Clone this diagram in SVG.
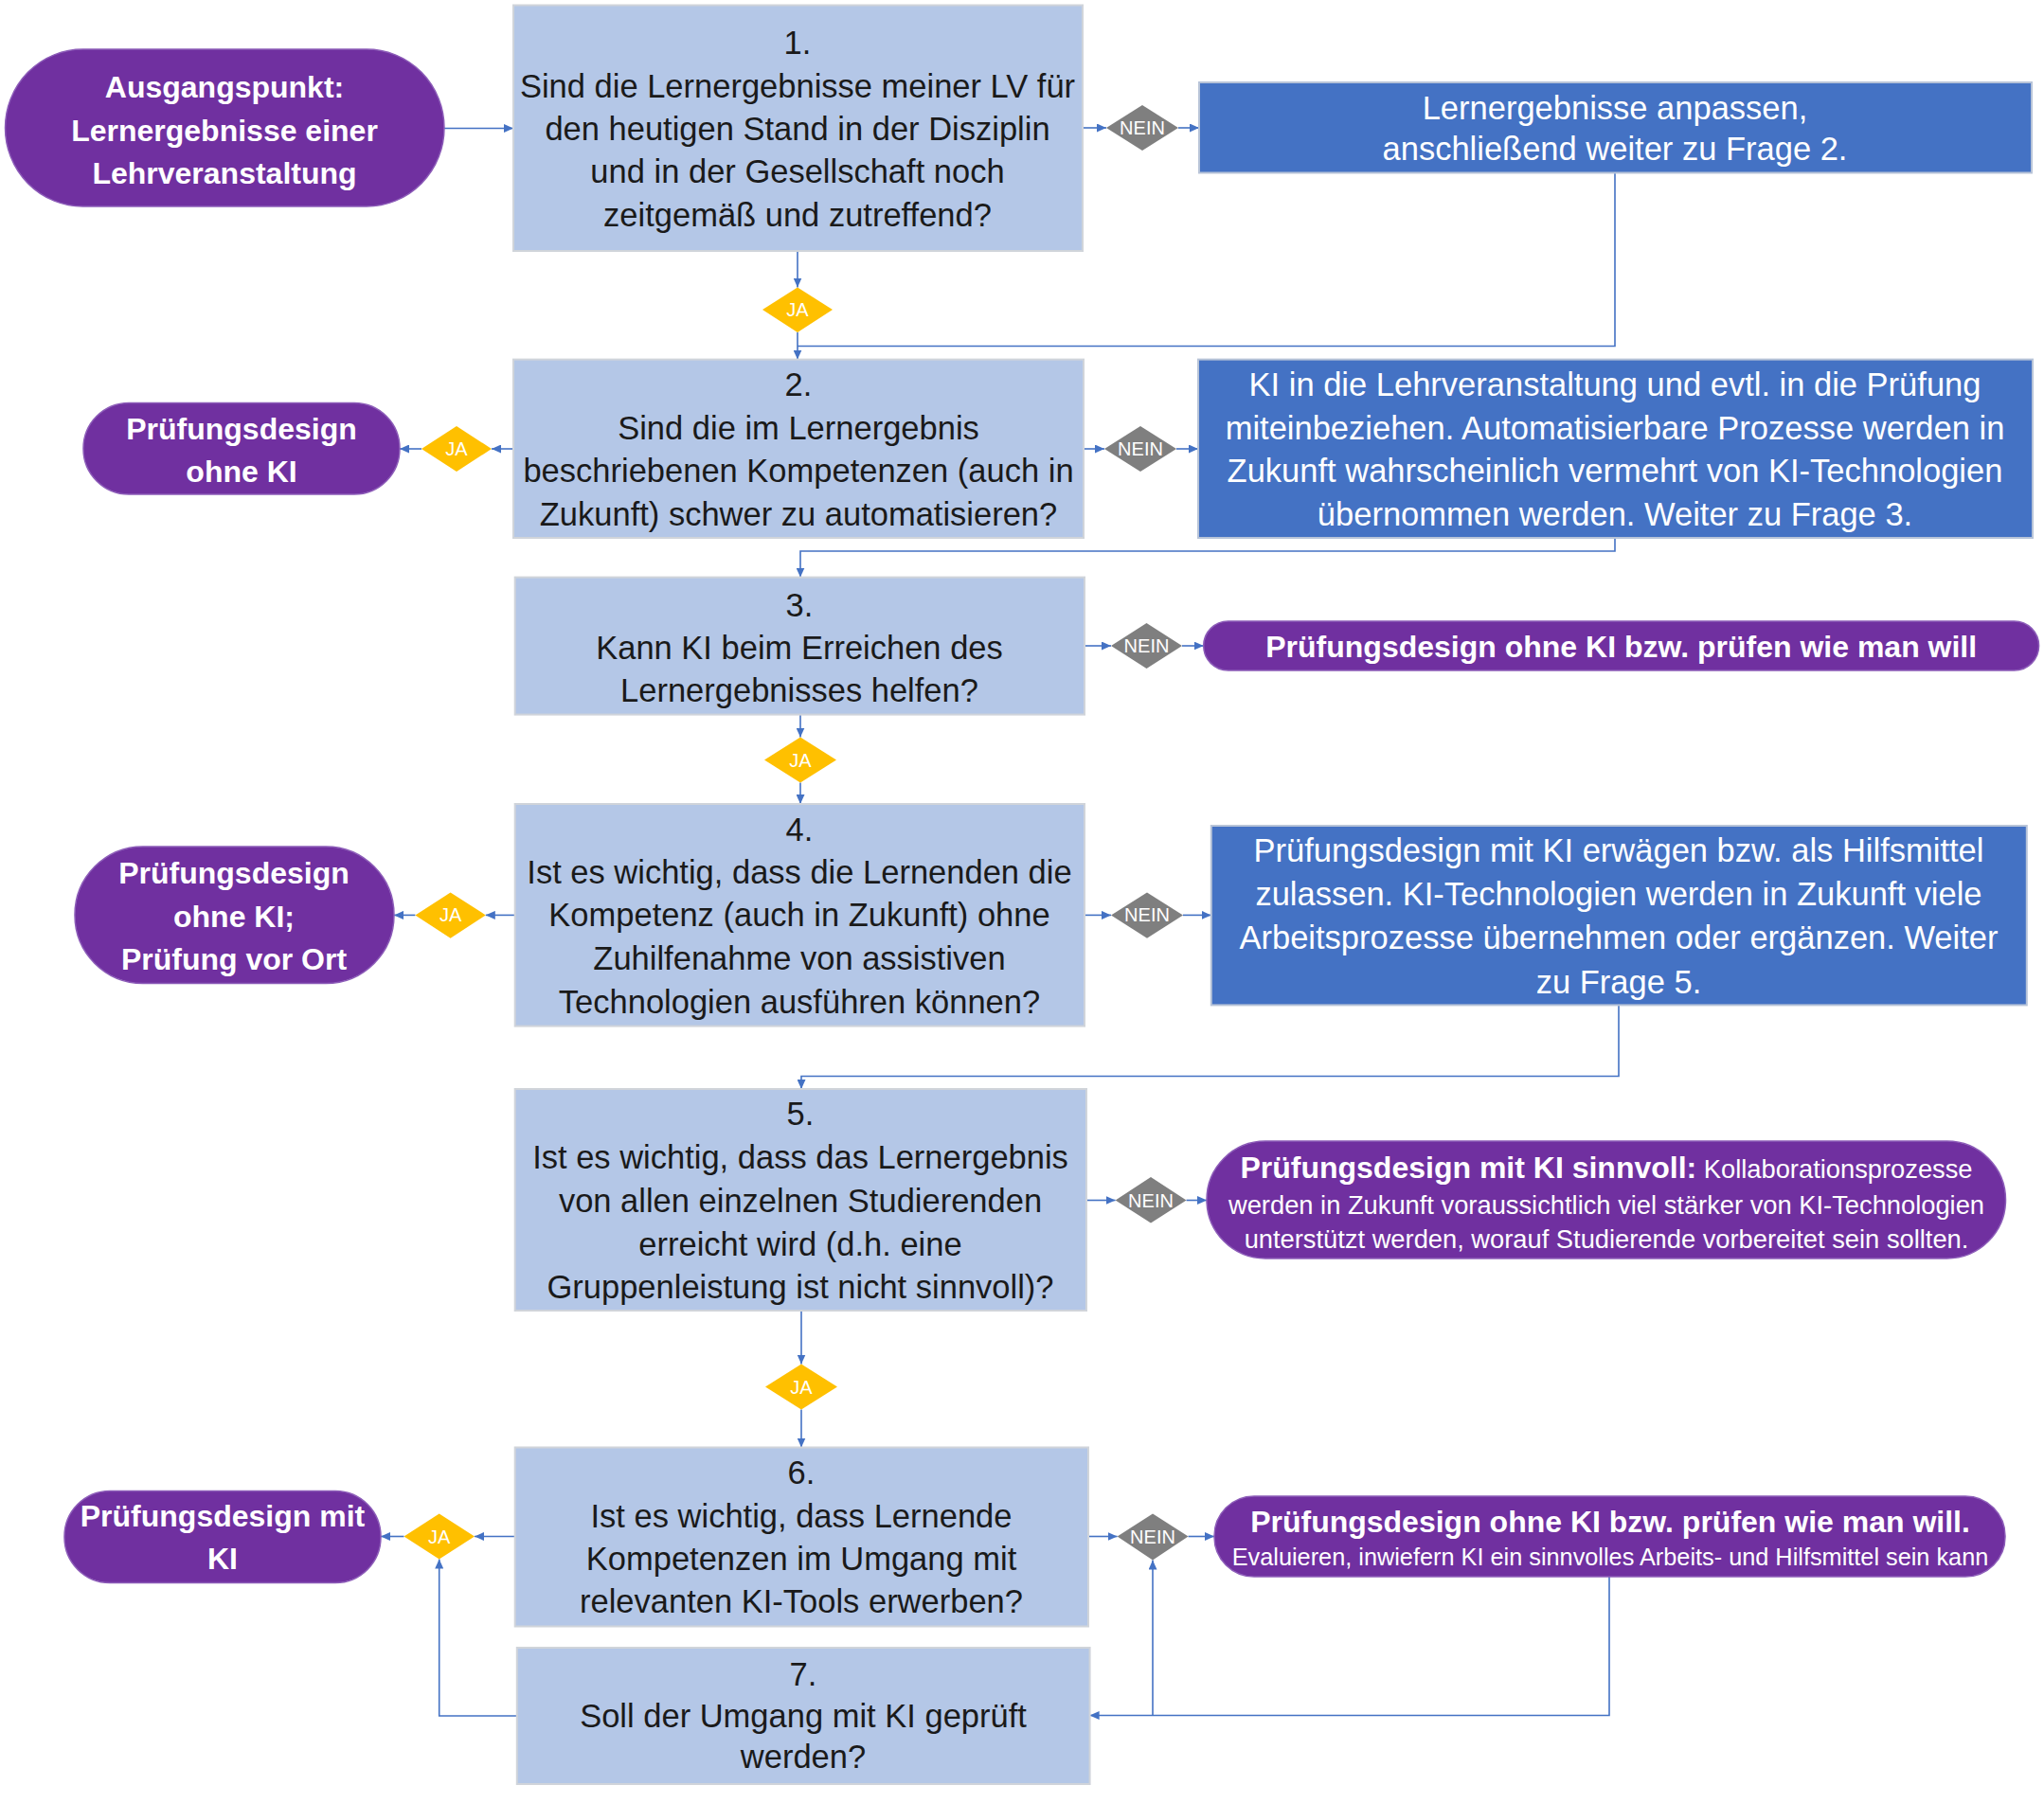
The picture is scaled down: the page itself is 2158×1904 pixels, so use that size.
<svg xmlns="http://www.w3.org/2000/svg" width="2158" height="1904" viewBox="0 0 2158 1904">
<style>
.q{fill:#B4C7E7;stroke:#D0D4DA;stroke-width:2}
.b{fill:#4472C4;stroke:#B8C4D8;stroke-width:2}
.p{fill:#7030A0;stroke:#8C5CB8;stroke-width:1.5}
.ja{fill:#FFC000}
.nein{fill:#7F7F7F}
.t{font-family:"Liberation Sans",Arial,sans-serif;font-size:34.5px;fill:#1A1A1A;text-anchor:middle}
.w{font-family:"Liberation Sans",Arial,sans-serif;font-size:34.5px;fill:#FFFFFF;text-anchor:middle}
.wb{font-family:"Liberation Sans",Arial,sans-serif;font-size:32px;font-weight:bold;fill:#FFFFFF;text-anchor:middle}
.ws{font-family:"Liberation Sans",Arial,sans-serif;font-size:27.3px;fill:#FFFFFF;text-anchor:middle}
.wx{font-family:"Liberation Sans",Arial,sans-serif;font-size:25.3px;fill:#FFFFFF;text-anchor:middle}
.lbl{font-family:"Liberation Sans",Arial,sans-serif;font-size:20px;fill:#FFFFFF;text-anchor:middle}
.c{fill:none;stroke:#4472C4;stroke-width:1.6}
.ca{fill:none;stroke:#4472C4;stroke-width:1.6;marker-end:url(#ah)}
</style>
<defs>
<marker id="ah" markerUnits="userSpaceOnUse" markerWidth="10" markerHeight="9" refX="10" refY="4.5" orient="auto">
<path d="M0,0 L10,4.5 L0,9 Z" fill="#4472C4"/>
</marker>
</defs>

<g id="connectors">
<path class="ca" d="M469,135.5 H542"/>
<path class="ca" d="M1143,135 H1168"/>
<path class="ca" d="M1244,135 H1266"/>
<path class="ca" d="M842,265 V303.5"/>
<path class="ca" d="M842,351 V379.6"/>
<path class="c" d="M1705,182.5 V365.5 H842"/>
<path class="ca" d="M542,474 H519"/>
<path class="ca" d="M445,474 H422"/>
<path class="ca" d="M1144,474 H1166"/>
<path class="ca" d="M1242,474 H1265"/>
<path class="ca" d="M1705,568 V582 H845 V609.6"/>
<path class="ca" d="M1145,682 H1173"/>
<path class="ca" d="M1248,682 H1270.7"/>
<path class="ca" d="M845,754.6 V778.6"/>
<path class="ca" d="M845,826.4 V849"/>
<path class="ca" d="M543.7,966.4 H512.8"/>
<path class="ca" d="M438.4,966.4 H416"/>
<path class="ca" d="M1145,966.4 H1173"/>
<path class="ca" d="M1249,966.4 H1278.8"/>
<path class="ca" d="M1709,1061.4 V1136.5 H846 V1150"/>
<path class="ca" d="M1147,1267.5 H1177.6"/>
<path class="ca" d="M1252.5,1267.5 H1274"/>
<path class="ca" d="M846,1384 V1440.5"/>
<path class="ca" d="M846,1488.5 V1528.5"/>
<path class="ca" d="M543.7,1622.5 H501"/>
<path class="ca" d="M426.5,1622.5 H402"/>
<path class="ca" d="M1149,1622.5 H1179.6"/>
<path class="ca" d="M1254.5,1622.5 H1282"/>
<path class="ca" d="M545.8,1812 H463.7 V1646.5"/>
<path class="ca" d="M1699,1665 V1811.5 H1150.6"/>
<path class="ca" d="M1217,1811.5 V1647.5"/>
</g>

<g id="start">
<rect class="p" x="5.5" y="52" width="463.5" height="166" rx="82" ry="83"/>
<text class="wb" font-size="33"><tspan x="237" y="103">Ausgangspunkt:</tspan><tspan x="237" y="148.5">Lernergebnisse einer</tspan><tspan x="237" y="194">Lehrveranstaltung</tspan></text>
</g>

<g id="q1">
<rect class="q" x="542" y="5.5" width="601" height="259.5"/>
<text class="t"><tspan x="842" y="57">1.</tspan><tspan x="842" y="103">Sind die Lernergebnisse meiner LV für</tspan><tspan x="842" y="148">den heutigen Stand in der Disziplin</tspan><tspan x="842" y="193">und in der Gesellschaft noch</tspan><tspan x="842" y="239">zeitgemäß und zutreffend?</tspan></text>
</g>
<g id="nein1"><polygon class="nein" points="1168,135 1206,111 1244,135 1206,159"/><text class="lbl" x="1206" y="142">NEIN</text></g>
<g id="a1">
<rect class="b" x="1266" y="87" width="879" height="95.5"/>
<text class="w"><tspan x="1705" y="126">Lernergebnisse anpassen,</tspan><tspan x="1705" y="169">anschließend weiter zu Frage 2.</tspan></text>
</g>
<g id="ja1"><polygon class="ja" points="805,327 842,303.5 879,327 842,351"/><text class="lbl" x="842" y="334">JA</text></g>

<g id="q2">
<rect class="q" x="542" y="379.6" width="602" height="188.4"/>
<text class="t"><tspan x="843" y="418">2.</tspan><tspan x="843" y="464">Sind die im Lernergebnis</tspan><tspan x="843" y="509">beschriebenen Kompetenzen (auch in</tspan><tspan x="843" y="555">Zukunft) schwer zu automatisieren?</tspan></text>
</g>
<g id="ja2"><polygon class="ja" points="445,474 482,450 519,474 482,498"/><text class="lbl" x="482" y="481">JA</text></g>
<g id="e2">
<rect class="p" x="88" y="425.5" width="334" height="96.5" rx="48" ry="48"/>
<text class="wb"><tspan x="255" y="463.5">Prüfungsdesign</tspan><tspan x="255" y="508.5">ohne KI</tspan></text>
</g>
<g id="nein2"><polygon class="nein" points="1166,474 1204,450 1242,474 1204,498"/><text class="lbl" x="1204" y="481">NEIN</text></g>
<g id="a2">
<rect class="b" x="1265" y="379.6" width="881" height="188.4"/>
<text class="w"><tspan x="1705" y="418">KI in die Lehrveranstaltung und evtl. in die Prüfung</tspan><tspan x="1705" y="464">miteinbeziehen. Automatisierbare Prozesse werden in</tspan><tspan x="1705" y="509">Zukunft wahrscheinlich vermehrt von KI-Technologien</tspan><tspan x="1705" y="555">übernommen werden. Weiter zu Frage 3.</tspan></text>
</g>

<g id="q3">
<rect class="q" x="543.7" y="609.6" width="601.3" height="145"/>
<text class="t"><tspan x="844" y="651">3.</tspan><tspan x="844" y="696">Kann KI beim Erreichen des</tspan><tspan x="844" y="741">Lernergebnisses helfen?</tspan></text>
</g>
<g id="nein3"><polygon class="nein" points="1173,682 1210.5,658 1248,682 1210.5,706"/><text class="lbl" x="1210.5" y="689">NEIN</text></g>
<g id="e3">
<rect class="p" x="1270.7" y="656" width="881.9" height="52" rx="26" ry="26"/>
<text class="wb" x="1711.7" y="694" font-size="32.5">Prüfungsdesign ohne KI bzw. prüfen wie man will</text>
</g>
<g id="ja3"><polygon class="ja" points="807,802.5 845,778.6 883,802.5 845,826.4"/><text class="lbl" x="845" y="809.5">JA</text></g>

<g id="q4">
<rect class="q" x="543.7" y="849" width="601.3" height="234.6"/>
<text class="t"><tspan x="844" y="888">4.</tspan><tspan x="844" y="933">Ist es wichtig, dass die Lernenden die</tspan><tspan x="844" y="978">Kompetenz (auch in Zukunft) ohne</tspan><tspan x="844" y="1024">Zuhilfenahme von assistiven</tspan><tspan x="844" y="1070">Technologien ausführen können?</tspan></text>
</g>
<g id="ja4"><polygon class="ja" points="438.4,966.4 475.6,942.5 512.8,966.4 475.6,990.7"/><text class="lbl" x="475.6" y="973.4">JA</text></g>
<g id="e4">
<rect class="p" x="79" y="894" width="337" height="144.6" rx="72" ry="72"/>
<text class="wb"><tspan x="247" y="932.5">Prüfungsdesign</tspan><tspan x="247" y="978.5">ohne KI;</tspan><tspan x="247" y="1023.5">Prüfung vor Ort</tspan></text>
</g>
<g id="nein4"><polygon class="nein" points="1173,966.4 1211,942.5 1249,966.4 1211,990.7"/><text class="lbl" x="1211" y="973.4">NEIN</text></g>
<g id="a4">
<rect class="b" x="1278.8" y="872" width="861" height="189.4"/>
<text class="w"><tspan x="1709" y="910">Prüfungsdesign mit KI erwägen bzw. als Hilfsmittel</tspan><tspan x="1709" y="956">zulassen. KI-Technologien werden in Zukunft viele</tspan><tspan x="1709" y="1002">Arbeitsprozesse übernehmen oder ergänzen. Weiter</tspan><tspan x="1709" y="1049">zu Frage 5.</tspan></text>
</g>

<g id="q5">
<rect class="q" x="543.7" y="1150" width="603.3" height="234"/>
<text class="t"><tspan x="845" y="1188">5.</tspan><tspan x="845" y="1234">Ist es wichtig, dass das Lernergebnis</tspan><tspan x="845" y="1280">von allen einzelnen Studierenden</tspan><tspan x="845" y="1326">erreicht wird (d.h. eine</tspan><tspan x="845" y="1371">Gruppenleistung ist nicht sinnvoll)?</tspan></text>
</g>
<g id="nein5"><polygon class="nein" points="1177.6,1267.5 1215,1243 1252.5,1267.5 1215,1291.5"/><text class="lbl" x="1215" y="1274.5">NEIN</text></g>
<g id="e5">
<rect class="p" x="1274" y="1205" width="843.5" height="124" rx="62" ry="62"/>
<text class="ws" x="1696" y="1244"><tspan class="wb" font-size="31.8">Prüfungsdesign mit KI sinnvoll:</tspan> Kollaborationsprozesse</text>
<text class="ws"><tspan x="1696" y="1282">werden in Zukunft voraussichtlich viel stärker von KI-Technologien</tspan><tspan x="1696" y="1318">unterstützt werden, worauf Studierende vorbereitet sein sollten.</tspan></text>
</g>
<g id="ja5"><polygon class="ja" points="808,1464.5 846,1440.5 884,1464.5 846,1488.5"/><text class="lbl" x="846" y="1471.5">JA</text></g>

<g id="q6">
<rect class="q" x="543.7" y="1528.5" width="605.3" height="189"/>
<text class="t"><tspan x="846" y="1567">6.</tspan><tspan x="846" y="1613">Ist es wichtig, dass Lernende</tspan><tspan x="846" y="1658">Kompetenzen im Umgang mit</tspan><tspan x="846" y="1703">relevanten KI-Tools erwerben?</tspan></text>
</g>
<g id="ja6"><polygon class="ja" points="426.5,1622.5 463.7,1598.5 501,1622.5 463.7,1646.5"/><text class="lbl" x="463.7" y="1629.5">JA</text></g>
<g id="e6">
<rect class="p" x="68" y="1574.5" width="334" height="97" rx="48" ry="48"/>
<text class="wb" font-size="32.3"><tspan x="235" y="1611.5">Prüfungsdesign mit</tspan><tspan x="235" y="1656.5">KI</tspan></text>
</g>
<g id="nein6"><polygon class="nein" points="1179.6,1622.5 1217,1598.5 1254.5,1622.5 1217,1647.5"/><text class="lbl" x="1217" y="1629.5">NEIN</text></g>
<g id="e7">
<rect class="p" x="1282" y="1580" width="835" height="85" rx="42" ry="42"/>
<text class="wb" x="1700" y="1618" font-size="33.6">Prüfungsdesign ohne KI bzw. prüfen wie man will.</text>
<text class="wx" x="1700" y="1653">Evaluieren, inwiefern KI ein sinnvolles Arbeits- und Hilfsmittel sein kann</text>
</g>

<g id="q7">
<rect class="q" x="545.8" y="1740" width="604.8" height="144"/>
<text class="t"><tspan x="848" y="1780">7.</tspan><tspan x="848" y="1824">Soll der Umgang mit KI geprüft</tspan><tspan x="848" y="1867">werden?</tspan></text>
</g>
</svg>
